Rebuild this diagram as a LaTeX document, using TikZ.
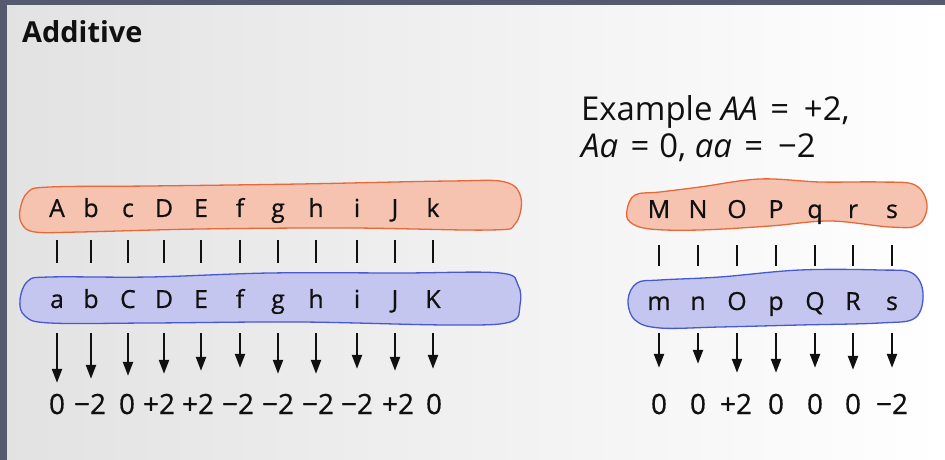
\documentclass[tikz,border=0pt]{standalone}
\usepackage{fontspec}
\setmainfont{Open Sans}
\newfontface\labelface[FakeBold=0.6]{Open Sans}
\usetikzlibrary{arrows.meta}
\definecolor{framegray}{HTML}{575A6E}
\definecolor{pagegray}{HTML}{E2E2E2}
\definecolor{salmonfill}{HTML}{F6C3B0}
\definecolor{salmonline}{HTML}{E8683A}
\definecolor{bluefill}{HTML}{C5C6EF}
\definecolor{blueline}{HTML}{4659D2}
\definecolor{ink}{HTML}{101010}

\begin{document}
\begin{tikzpicture}[x=1bp,y=-1bp,
  allele/.style={anchor=base, inner sep=0pt, text height=18bp, text depth=0pt,
    font=\labelface\fontsize{25}{25}\selectfont, text=ink},
  effect/.style={anchor=base, inner sep=0pt, text height=20bp, text depth=0pt,
    font=\labelface\fontsize{28}{28}\selectfont, text=ink},
  pairbar/.style={line width=2.6bp, draw=ink},
  effectarrow/.style={line width=2.3bp, draw=ink, -{Triangle[length=14bp,width=10bp]}},
  chromA/.style={fill=salmonfill, draw=salmonline, line width=1.3bp},
  chromB/.style={fill=bluefill, draw=blueline, line width=1.3bp},
  heading/.style={anchor=base west, inner sep=0pt, text=ink},
]
% page and frame
\useasboundingbox (0,0) rectangle (945,460);
\shade[left color=pagegray, right color=white] (0,0) rectangle (945,460);
\fill[framegray] (0,0) rectangle (945,5);
\fill[framegray] (0,0) rectangle (7,460);

% titles
\node[heading, font=\fontsize{29}{29}\selectfont\bfseries] (title) at (22,43) {Additive};
\node[heading, font=\fontsize{33}{33}\selectfont] (ex1) at (581,121)
  {Example \textit{AA}\hspace{0.38em}=\hspace{0.45em}+2,};
\node[heading, font=\fontsize{33}{33}\selectfont] (ex2) at (581,158)
  {\textit{Aa}\hspace{0.38em}=\hspace{0.3em}0, \textit{aa}\hspace{0.38em}=\hspace{0.45em}−2};

% chromosomes, left pair
\draw[chromA] plot[smooth cycle, tension=0.6] coordinates {
  (20,210) (28,192) (50,187) (150,186) (300,184) (450,181) (505,182)
  (521,198) (515,224) (490,230) (350,228) (200,229) (80,232) (35,232) (22,224)};
\draw[chromB] plot[smooth cycle, tension=0.6] coordinates {
  (20,300) (28,281) (50,277) (150,277) (270,273) (400,273) (500,273)
  (518,285) (520,305) (510,322) (450,325) (300,322) (150,323) (50,323) (25,316)};

% chromosomes, right pair
\draw[chromA] plot[smooth cycle, tension=0.6] coordinates {
  (627,210) (635,195) (660,192) (700,187) (760,179) (820,182) (880,182)
  (915,185) (927,205) (918,225) (890,227) (830,221) (770,226) (700,230)
  (650,229) (630,222)};
\draw[chromB] plot[smooth cycle, tension=0.6] coordinates {
  (628,300) (637,283) (660,280) (720,277) (800,270) (880,270) (912,273)
  (923,293) (915,318) (880,323) (800,325) (720,327) (660,328) (635,320)};

% left pair: loci, pairing bars and effects
\foreach \i/\x/\t/\b/\n/\nx/\gap in {
  1/57/A/a/0/57/11, 2/91/b/b/−2/90/15, 3/128/c/C/0/127/18,
  4/164/D/D/+2/159/20, 5/201/E/E/+2/198/23, 6/240/f/f/−2/238/26,
  7/278/g/g/−2/278/20, 8/316/h/h/−2/318/20, 9/357/i/i/−2/357/25,
  10/395/J/J/+2/398/23, 11/433/k/K/0/434/25} {
  \node[allele] (lt\i) at (\x,217) {\t};
  \node[allele] (lb\i) at (\x,308) {\b};
  \node[effect] (ln\i) at (\nx,414) {\n};
  \draw[pairbar, shorten <=23bp, shorten >=27bp] (lt\i.south) -- (lb\i.north);
  \draw[effectarrow, shorten <=25bp, shorten >=\gap bp] (lb\i.south) -- (lb\i.south |- ln\i.north);
}

% right pair: loci, pairing bars and effects
\foreach \i/\x/\t/\b/\n/\nx/\gap in {
  1/659/M/m/0/659/26, 2/698/N/n/0/698/30, 3/737/O/O/+2/736/21,
  4/776/P/p/0/776/21, 5/815/q/Q/0/815/26, 6/853/r/R/0/853/24,
  7/892/s/s/−2/892/26} {
  \node[allele] (rt\i) at (\x,218) {\t};
  \node[allele] (rb\i) at (\x,310) {\b};
  \node[effect] (rn\i) at (\nx,414) {\n};
  \draw[pairbar, shorten <=27bp, shorten >=26bp] (rt\i.south) -- (rb\i.north);
  \draw[effectarrow, shorten <=23bp, shorten >=\gap bp] (rb\i.south) -- (rb\i.south |- rn\i.north);
}
\end{tikzpicture}
\end{document}
